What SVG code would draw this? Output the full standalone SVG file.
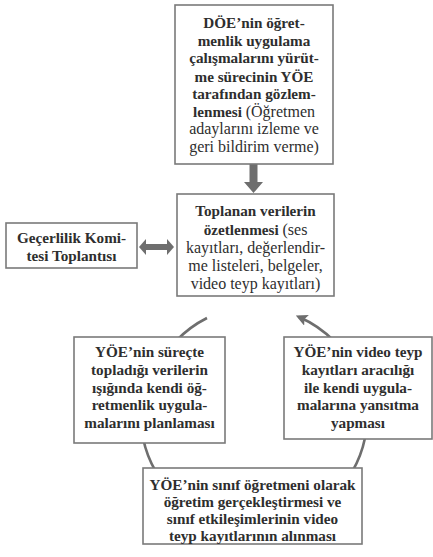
<svg xmlns="http://www.w3.org/2000/svg" width="433" height="557" viewBox="0 0 433 557">
<style>
.box{fill:#fff;stroke:#7a7a7a;stroke-width:1.6}
text{font-size:15.2px;fill:#2e2e2e;text-anchor:middle;font-weight:bold}
.r{font-weight:normal;font-size:16px}
.arc{fill:none;stroke:#6e6e6e;stroke-width:2.6}
.fat{fill:#6e6e6e}
</style>
<defs>
<marker id="ah" viewBox="0 0 10 10" refX="7" refY="5" markerWidth="4.5" markerHeight="4.5" orient="auto" markerUnits="strokeWidth">
<path d="M0,0 L10,5 L0,10 L2,5 z" fill="#6e6e6e"/>
</marker>
</defs>
<rect width="433" height="557" fill="#fff"/>
<g id="connectors">
<polygon class="fat" points="249.5,164 257.5,164 257.5,182 263,182 253.5,193 244,182 249.5,182"/>
<polygon class="fat" points="139,247 146,239 146,244 167,244 167,239 174,247 167,255 167,250 146,250 146,255"/>
<path class="arc" d="M207,318 A112,112 0 0 0 176,341"/>
<path class="arc" d="M334,341 A112,112 0 0 0 299,317" marker-end="url(#ah)"/>
<path class="arc" d="M143,438 A112,112 0 0 0 156,472"/>
<path class="arc" d="M365,438 A112,112 0 0 1 352,472"/>
</g>
<g id="n-observe" font-family="Liberation Serif, serif">
<rect class="box" x="175" y="5" width="158" height="159"/>
<text x="254" y="28">DÖE’nin öğret-</text>
<text x="254" y="46">menlik uygulama</text>
<text x="254" y="63">çalışmalarını yürüt-</text>
<text x="254" y="82">me sürecinin YÖE</text>
<text x="254" y="99">tarafından gözlem-</text>
<text x="254" y="117">lenmesi <tspan class="r">(Öğretmen</tspan></text>
<text x="254" y="134" class="r">adaylarını izleme ve</text>
<text x="254" y="152" class="r">geri bildirim verme)</text>
</g>
<g id="n-summary" font-family="Liberation Serif, serif">
<rect class="box" x="177" y="194" width="157" height="102"/>
<text x="255.5" y="216">Toplanan verilerin</text>
<text x="255.5" y="235">özetlenmesi <tspan class="r">(ses</tspan></text>
<text x="255.5" y="253" class="r">kayıtları, değerlendir-</text>
<text x="255.5" y="271" class="r">me listeleri, belgeler,</text>
<text x="255.5" y="289" class="r">video teyp kayıtları)</text>
</g>
<g id="n-committee" font-family="Liberation Serif, serif">
<rect class="box" x="6" y="223" width="131" height="45"/>
<text x="71.5" y="243">Geçerlilik Komi-</text>
<text x="71.5" y="261">tesi Toplantısı</text>
</g>
<g id="n-plan" font-family="Liberation Serif, serif">
<rect class="box" x="74" y="337" width="151" height="106"/>
<text x="149.5" y="357">YÖE’nin süreçte</text>
<text x="149.5" y="375">topladığı verilerin</text>
<text x="149.5" y="393">ışığında kendi öğ-</text>
<text x="149.5" y="410">retmenlik uygula-</text>
<text x="149.5" y="428">malarını planlaması</text>
</g>
<g id="n-reflect" font-family="Liberation Serif, serif">
<rect class="box" x="284" y="337" width="148" height="102"/>
<text x="358" y="357">YÖE’nin video teyp</text>
<text x="358" y="375">kayıtları aracılığı</text>
<text x="358" y="393">ile kendi uygula-</text>
<text x="358" y="410">malarına yansıtma</text>
<text x="358" y="428">yapması</text>
</g>
<g id="n-teach" font-family="Liberation Serif, serif">
<rect class="box" x="143" y="468" width="219" height="76"/>
<text x="252.5" y="490">YÖE’nin sınıf öğretmeni olarak</text>
<text x="252.5" y="507">öğretim gerçekleştirmesi ve</text>
<text x="252.5" y="524">sınıf etkileşimlerinin video</text>
<text x="252.5" y="541">teyp kayıtlarının alınması</text>
</g>
</svg>
